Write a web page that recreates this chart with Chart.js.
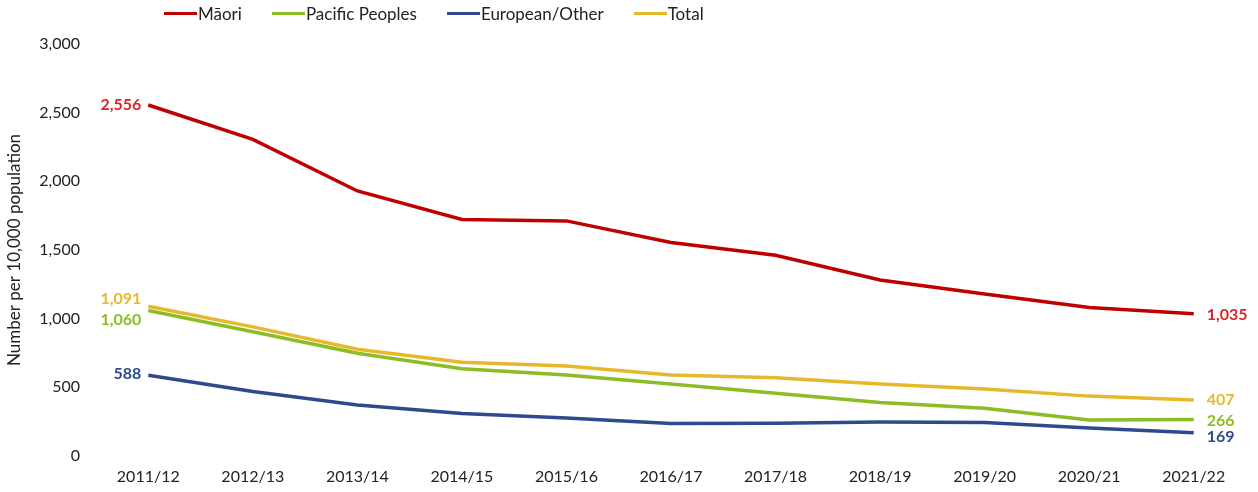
<!DOCTYPE html>
<html>
<head>
<meta charset="utf-8">
<script src="https://cdn.jsdelivr.net/npm/chart.js@4.4.1/dist/chart.umd.min.js"></script>
<style>
  html, body { margin: 0; padding: 0; background: #fff; }
  #wrap { position: relative; width: 1258px; height: 492px; }
  #legend {
    position: absolute; left: 164px; top: 3px; display: flex; gap: 30px;
    font: 17px Lato, 'Open Sans', sans-serif; color: #222;
  }
  #legend span.item { display: flex; align-items: center; }
  #legend i { display: inline-block; width: 33px; height: 3px; margin-right: 1px; }
</style>
</head>
<body>
<div id="wrap">
  <canvas id="chart" width="1258" height="492"></canvas>
  <div id="legend"></div>
</div>
<script>
// ── Data ────────────────────────────────────────────────────────
const years = ['2011/12','2012/13','2013/14','2014/15','2015/16','2016/17','2017/18','2018/19','2019/20','2020/21','2021/22'];
const maori    = [2556, 2305, 1930, 1722, 1712, 1555, 1462, 1282, 1180, 1082, 1035];
const pacific  = [1060, 905, 748, 636, 590, 524, 457, 390, 348, 262, 266];
const european = [588, 470, 371, 310, 276, 237, 239, 248, 244, 203, 169];
const total    = [1091, 940, 778, 683, 655, 590, 570, 524, 488, 436, 407];
const yTicks   = [0, 500, 1000, 1500, 2000, 2500, 3000];

const FONT = "Lato, 'Open Sans', sans-serif";

const series = [
    { label: 'Māori',           data: maori,    color: '#C00000', text: '#D9262C', dyFirst: 0,  dyLast: 1 },
    { label: 'Pacific Peoples', data: pacific,  color: '#8CBD24', text: '#8CBD24', dyFirst: 9,  dyLast: 1 },
    { label: 'European/Other',  data: european, color: '#2E4A8C', text: '#2E4A8C', dyFirst: -1, dyLast: 4 },
    { label: 'Total',           data: total,    color: '#E8B82C', text: '#E8B82C', dyFirst: -7, dyLast: 0 }
];

// ── Legend (HTML) ───────────────────────────────────────────────
document.getElementById('legend').innerHTML = series.map(s =>
    `<span class="item"><i style="background:${s.color}"></i>${s.label}</span>`).join('');

// ── End labels plugin ───────────────────────────────────────────
const endLabels = {
    id: 'endLabels',
    afterDatasetsDraw(chart) {
        const ctx = chart.ctx;
        ctx.save();
        ctx.font = 'bold 16px ' + FONT;
        ctx.textBaseline = 'middle';
        chart.data.datasets.forEach((ds, i) => {
            const pts = chart.getDatasetMeta(i).data;
            const s = series[i];
            const first = pts[0], last = pts[pts.length - 1];
            ctx.fillStyle = s.text;
            ctx.textAlign = 'right';
            ctx.fillText(ds.data[0].toLocaleString('en-US'), first.x - 7, first.y + s.dyFirst);
            ctx.textAlign = 'left';
            ctx.fillText(ds.data[ds.data.length - 1].toLocaleString('en-US'), last.x + 13, last.y + s.dyLast);
        });
        ctx.restore();
    }
};

new Chart(document.getElementById('chart'), {
    type: 'line',
    data: {
        labels: years,
        datasets: series.map(s => ({
            label: s.label,
            data: s.data,
            borderColor: s.color,
            backgroundColor: s.color,
            borderWidth: 3.5,
            pointRadius: 0,
            tension: 0
        }))
    },
    options: {
        responsive: false,
        animation: false,
        layout: { padding: { top: 44, right: 12, left: 0, bottom: 0 } },
        plugins: { legend: { display: false }, tooltip: { enabled: false } },
        scales: {
            x: {
                offset: true,
                grid: { display: false, drawTicks: false },
                border: { display: false },
                ticks: { color: '#222', padding: 11, maxRotation: 0, font: { family: FONT, size: 16 } },
                afterFit(scale) { scale.height = 36; }
            },
            y: {
                min: 0, max: 3000,
                afterBuildTicks(scale) { scale.ticks = yTicks.map(v => ({ value: v })); },
                grid: { display: false, drawTicks: false },
                border: { display: false },
                ticks: {
                    color: '#222', padding: 16,
                    font: { family: FONT, size: 16 },
                    callback: v => v.toLocaleString('en-US')
                },
                title: {
                    display: true, text: 'Number per 10,000 population',
                    color: '#222', font: { family: FONT, size: 17 }, padding: { top: 4, bottom: 0 }
                },
                afterFit(scale) { scale.width = 96; }
            }
        }
    },
    plugins: [endLabels]
});
</script>
</body>
</html>
